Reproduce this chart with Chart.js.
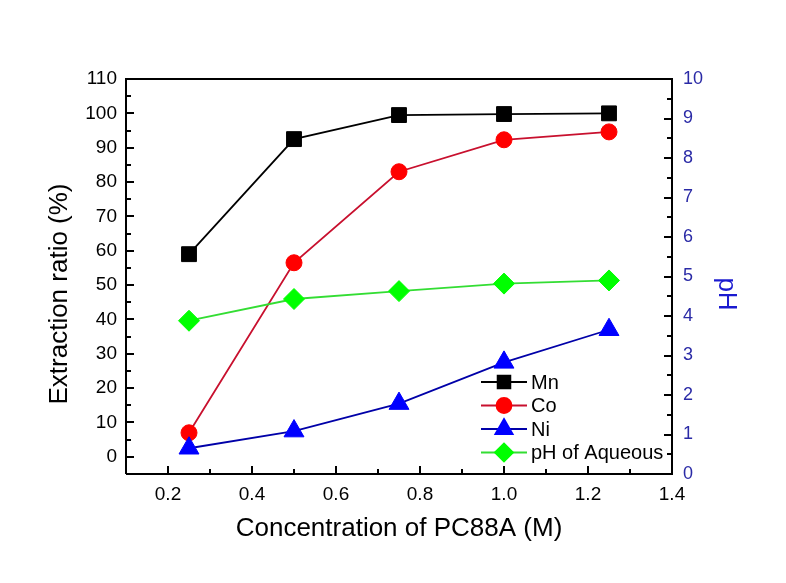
<!DOCTYPE html>
<html lang="en">
<head>
    <meta charset="UTF-8">
    <title>Extraction ratio vs PC88A</title>
    <script src="https://cdn.jsdelivr.net/npm/chart.js"></script>
    <style>
        body { margin: 0; padding: 0; background: #fff; }
        canvas { display: block; }
    </style>
</head>
<body>
    <canvas id="chart" width="786" height="583"></canvas>

    <script>
        // data
        const concentration = [0.25, 0.5, 0.75, 1.0, 1.25];
        const mnRatio = [59, 92.5, 99.5, 99.8, 100];
        const coRatio = [7, 56.5, 83, 92.3, 94.6];
        const niRatio = [2.5, 7.5, 15.5, 27.5, 37];
        const phAqueous = [3.88, 4.43, 4.63, 4.82, 4.9];

        const xTicks = [0.2, 0.4, 0.6, 0.8, 1.0, 1.2, 1.4];
        const leftTicks = [0, 10, 20, 30, 40, 50, 60, 70, 80, 90, 100, 110];
        const rightTicks = [0, 1, 2, 3, 4, 5, 6, 7, 8, 9, 10];

        const font = 'Liberation Sans, Arial, sans-serif';

        function pts(ys) {
            return concentration.map((x, i) => ({ x: x, y: ys[i] }));
        }

        function series(label, ys, line, fill, style, r, axis, order) {
            return {
                label: label,
                data: pts(ys),
                yAxisID: axis,
                borderColor: line,
                borderWidth: 1.8,
                pointStyle: style,
                pointRadius: r,
                pointHoverRadius: r,
                pointBackgroundColor: fill,
                pointBorderColor: fill,
                pointBorderWidth: 1,
                tension: 0,
                order: order
            };
        }

        // inward ticks + frame, like the original plot
        const framePlugin = {
            id: 'frame',
            afterDatasetsDraw(chart) {
                const ctx = chart.ctx;
                const a = chart.chartArea;
                const sx = chart.scales.x, sl = chart.scales.y, sr = chart.scales.y2;
                ctx.save();
                ctx.strokeStyle = '#000';
                ctx.lineWidth = 2;
                ctx.beginPath();
                ctx.moveTo(a.left, a.bottom); ctx.lineTo(a.left, a.top);
                ctx.lineTo(a.right, a.top); ctx.lineTo(a.right, a.bottom);
                ctx.lineTo(a.left, a.bottom);
                ctx.stroke();

                ctx.beginPath();
                for (let v = 0.2; v < 1.41; v += 0.1) {
                    const px = Math.round(sx.getPixelForValue(v));
                    const major = Math.round(v * 10) % 2 === 0;
                    ctx.moveTo(px, a.bottom); ctx.lineTo(px, a.bottom - (major ? 8 : 5));
                }
                for (let v = 0; v <= 110; v += 5) {
                    const py = Math.round(sl.getPixelForValue(v));
                    ctx.moveTo(a.left, py); ctx.lineTo(a.left + (v % 10 === 0 ? 8 : 5), py);
                }
                for (let v = 0; v <= 10; v += 0.5) {
                    const py = Math.round(sr.getPixelForValue(v));
                    ctx.moveTo(a.right, py); ctx.lineTo(a.right - (v % 1 === 0 ? 8 : 5), py);
                }
                ctx.stroke();

                // vertical axis titles (sit a bit below the plot centre in the original)
                ctx.font = '26px ' + font;
                ctx.textAlign = 'center';
                ctx.textBaseline = 'middle';
                ctx.fillStyle = '#000';
                ctx.save();
                ctx.translate(60, 294);
                ctx.rotate(-Math.PI / 2);
                ctx.fillText('Extraction ratio (%)', 0, 0);
                ctx.restore();
                ctx.fillStyle = '#1a1ad0';
                ctx.save();
                ctx.translate(726, 294);
                ctx.rotate(Math.PI / 2);
                ctx.fillText('pH', 0, 0);
                ctx.restore();
                ctx.restore();
            }
        };

        // legend drawn inside the plot, lower right
        const legendPlugin = {
            id: 'insideLegend',
            afterDraw(chart) {
                const ctx = chart.ctx;
                const sizes = [9, 7.5, 10, 9];
                ctx.save();
                ctx.font = '20px ' + font;
                ctx.textBaseline = 'middle';
                chart.data.datasets.forEach((ds, i) => {
                    const y = 382 + i * 23.5;
                    ctx.strokeStyle = ds.borderColor;
                    ctx.lineWidth = 1.8;
                    ctx.beginPath();
                    ctx.moveTo(481, y); ctx.lineTo(527, y);
                    ctx.stroke();
                    ctx.fillStyle = ds.pointBackgroundColor;
                    ctx.strokeStyle = ds.pointBackgroundColor;
                    Chart.helpers.drawPoint(ctx, {
                        pointStyle: ds.pointStyle, radius: sizes[i], rotation: 0, borderWidth: 1
                    }, 504, y);
                    ctx.fillStyle = '#000';
                    ctx.fillText(ds.label, 531, y + 1);
                });
                ctx.restore();
            }
        };

        new Chart(document.getElementById('chart'), {
            type: 'line',
            data: {
                datasets: [
                    series('Mn', mnRatio, '#000000', '#000000', 'rect', 10.5, 'y', 4),
                    series('Co', coRatio, '#c8102e', '#ff0000', 'circle', 8, 'y', 3),
                    series('Ni', niRatio, '#0000a8', '#0000ff', 'triangle', 11.5, 'y', 2),
                    series('pH of Aqueous', phAqueous, '#33dd33', '#00ff00', 'rectRot', 10.5, 'y2', 1)
                ]
            },
            options: {
                responsive: false,
                animation: false,
                layout: { padding: { top: 79, left: 0, right: 0, bottom: 0 }, autoPadding: false },
                plugins: {
                    legend: { display: false },
                    tooltip: { enabled: false }
                },
                scales: {
                    x: {
                        type: 'linear',
                        min: 0.1,
                        max: 1.4,
                        afterBuildTicks: s => { s.ticks = xTicks.map(v => ({ value: v })); },
                        afterFit: s => { s.height = 109; },
                        grid: { display: false, drawTicks: false },
                        border: { display: false },
                        ticks: {
                            padding: 9,
                            color: '#000',
                            font: { family: font, size: 19 },
                            callback: v => v.toFixed(1)
                        },
                        title: {
                            display: true,
                            text: 'Concentration of PC88A (M)',
                            color: '#000',
                            font: { family: font, size: 26 },
                            padding: 39
                        }
                    },
                    y: {
                        type: 'linear',
                        position: 'left',
                        min: -5,
                        max: 110,
                        afterBuildTicks: s => { s.ticks = leftTicks.map(v => ({ value: v })); },
                        afterFit: s => { s.width = 126; },
                        grid: { display: false, drawTicks: false },
                        border: { display: false },
                        ticks: {
                            padding: 9,
                            color: '#000',
                            font: { family: font, size: 19 }
                        }
                    },
                    y2: {
                        type: 'linear',
                        position: 'right',
                        min: 0,
                        max: 10,
                        afterBuildTicks: s => { s.ticks = rightTicks.map(v => ({ value: v })); },
                        afterFit: s => { s.width = 114; },
                        grid: { display: false, drawTicks: false },
                        border: { display: false },
                        ticks: {
                            padding: 11,
                            color: '#2a2aa6',
                            font: { family: font, size: 18 }
                        }
                    }
                }
            },
            plugins: [framePlugin, legendPlugin]
        });
    </script>
</body>
</html>
